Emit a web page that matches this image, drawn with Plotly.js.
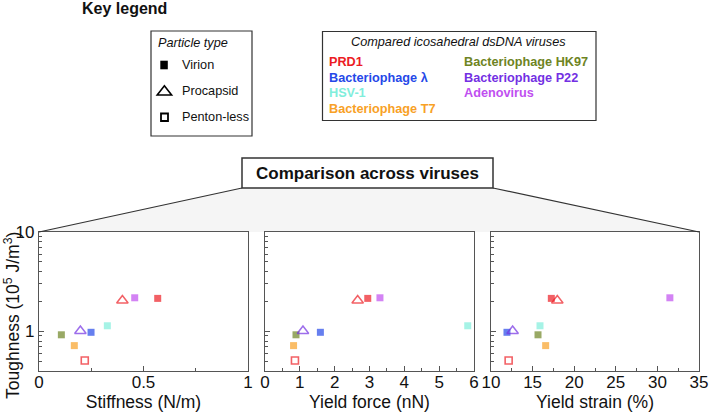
<!DOCTYPE html>
<html><head><meta charset="utf-8">
<script src="https://cdn.plot.ly/plotly-3.0.1.min.js"></script>
<style>html,body{margin:0;padding:0;background:#fff;}#chart{width:709px;height:412px;}</style>
</head><body><div id="chart"></div>
<script>
// ---------- Data ----------
const viruses = ["PRD1","PRD1","PRD1","Bacteriophage λ","HSV-1","Bacteriophage T7","Bacteriophage HK97","Bacteriophage P22","Adenovirus"];
const particleTypes = ["Virion","Procapsid","Penton-less","Virion","Virion","Virion","Virion","Procapsid","Virion"];
const stiffness   = [0.568,0.399,0.219,0.249,0.327,0.169,0.107,0.198,0.458];   // N/m
const yieldForce  = [2.95,2.66,0.86,1.59,5.82,0.82,0.89,1.09,3.30];            // nN
const yieldStrain = [17.25,17.97,12.12,11.92,15.89,16.57,15.65,12.6,31.5];     // %
const toughness   = [2.15,2.05,0.51,0.98,1.14,0.72,0.925,1.01,2.18];           // 10^5 J/m^3

const legendVirusesCol1 = ["PRD1","Bacteriophage λ","HSV-1","Bacteriophage T7"];
const legendVirusesCol2 = ["Bacteriophage HK97","Bacteriophage P22","Adenovirus"];
const legendParticles = ["Virion","Procapsid","Penton-less"];

const xTitles = ["Stiffness (N/m)","Yield force (nN)","Yield strain (%)"];
const xTickVals = [[0,0.5,1],[0,1,2,3,4,5,6],[10,15,20,25,30,35]];
const xTickText = [["0","0.5","1"],["0","1","2","3","4","5","6"],["10","15","20","25","30","35"]];
const yTickVals = [1,10];
const yTickText = ["1","10"];
const yMinorVals = [0.4,0.5,0.6,0.7,0.8,0.9,2,3,4,5,6,7,8,9];
const yTitle = "Toughness (10<sup>5</sup> J/m<sup>3</sup>)";

// ---------- Styles ----------
const virusColor = {"PRD1":"#ec1c24","Bacteriophage λ":"#2548e8","HSV-1":"#80eedb","Bacteriophage T7":"#f8a126",
  "Bacteriophage HK97":"#6e8423","Bacteriophage P22":"#7330e3","Adenovirus":"#c04ff0"};
const particleSymbol = {"Virion":"square","Procapsid":"triangle-up-open","Penton-less":"square-open"};
const particleSize = {"Virion":7,"Procapsid":10,"Penton-less":7};
const particleLine = {"Virion":0,"Procapsid":1.5,"Penton-less":1.6};
const FONT = "Liberation Sans, Arial, Helvetica, sans-serif";
const W = 709, H = 412;
const px = x => x / W, py = y => 1 - y / H;

const xData = [stiffness, yieldForce, yieldStrain];
const xRanges = [[0,1],[0,6],[10,35]];
const xMinorDt = [0.25,0.5,2.5];
const panelPx = [[39,248],[265,474],[491,699]];
const yDom = [py(371), py(232)];

const traces = xData.map((xs, i) => ({
  type: "scatter", mode: "markers",
  x: xs, y: toughness,
  xaxis: i === 0 ? "x" : "x" + (i + 1), yaxis: i === 0 ? "y" : "y" + (i + 1),
  text: viruses.map((v, k) => v + " – " + particleTypes[k]),
  hoverinfo: "text+x+y",
  marker: {
    color: viruses.map(v => virusColor[v]),
    symbol: particleTypes.map(p => particleSymbol[p]),
    size: particleTypes.map(p => particleSize[p]),
    line: { width: particleTypes.map(p => particleLine[p]), color: viruses.map(v => virusColor[v]) }
  },
  showlegend: false, cliponaxis: false
}));

const layout = {
  width: W, height: H,
  margin: { l: 0, r: 0, t: 0, b: 0 },
  paper_bgcolor: "#fff", plot_bgcolor: "#fff",
  font: { family: FONT, color: "#111" },
  showlegend: false,
  shapes: [], annotations: []
};

for (let i = 0; i < 3; i++) {
  const sx = i === 0 ? "" : String(i + 1);
  layout["xaxis" + sx] = {
    domain: [px(panelPx[i][0]), px(panelPx[i][1])], range: xRanges[i], anchor: "y" + sx,
    tickmode: "array", tickvals: xTickVals[i], ticktext: xTickText[i],
    ticks: "inside", ticklen: 5, tickwidth: 1, tickcolor: "#555",
    minor: { tick0: xRanges[i][0], dtick: xMinorDt[i], ticks: "inside", ticklen: 3, tickwidth: 1, tickcolor: "#555", showgrid: false },
    showline: true, mirror: true, linecolor: "#555", linewidth: 1.2,
    showgrid: false, zeroline: false, automargin: false,
    ticklabelstandoff: -5,
    tickfont: { size: 17, color: "#111", family: FONT },
    title: { text: xTitles[i], font: { size: 17.5, color: "#111", family: FONT } }
  };
  layout["yaxis" + sx] = {
    domain: yDom, type: "log", range: [Math.log10(0.4), 1], anchor: "x" + sx,
    tickmode: "array", tickvals: yTickVals, ticktext: yTickText,
    ticks: "inside", ticklen: 5, tickwidth: 1, tickcolor: "#555",
    minor: { tickmode: "array", tickvals: yMinorVals, ticks: "inside", ticklen: 3, tickwidth: 1, tickcolor: "#555", showgrid: false },
    showline: true, mirror: true, linecolor: "#555", linewidth: 1.2,
    showgrid: false, zeroline: false, automargin: false,
    showticklabels: i === 0,
    tickfont: { size: 17, color: "#111", family: FONT }
  };
}

// y-axis title (shared by the three panels, placed like the reference)
layout.annotations.push({ xref: "paper", yref: "paper", x: px(12), y: py(316), text: yTitle, textangle: -90,
  showarrow: false, xanchor: "center", yanchor: "middle", font: { size: 17.5, color: "#111", family: FONT } });

// ---------- Trapezoid and "Comparison across viruses" box ----------
const boxL = 242, boxR = 493, boxT = 158, boxB = 188, topY = 232, leftX = 39, rightX = 699;
layout.shapes.push({
  type: "path", xref: "paper", yref: "paper", layer: "below",
  path: `M ${px(boxL)} ${py(boxB)} L ${px(boxR)} ${py(boxB)} L ${px(rightX)} ${py(topY)} L ${px(leftX)} ${py(topY)} Z`,
  fillcolor: "#f5f5f5", line: { width: 0 }
});
layout.shapes.push({ type: "line", xref: "paper", yref: "paper", x0: px(boxL), y0: py(boxB), x1: px(leftX), y1: py(topY), line: { color: "#333", width: 1.2 } });
layout.shapes.push({ type: "line", xref: "paper", yref: "paper", x0: px(boxR), y0: py(boxB), x1: px(rightX), y1: py(topY), line: { color: "#333", width: 1.2 } });
layout.shapes.push({ type: "rect", xref: "paper", yref: "paper", x0: px(boxL), y0: py(boxB), x1: px(boxR), y1: py(boxT), fillcolor: "#fff", line: { color: "#333", width: 1.5 } });
layout.annotations.push({ xref: "paper", yref: "paper", x: px((boxL + boxR) / 2), y: py(173.5), text: "<b>Comparison across viruses</b>",
  showarrow: false, xanchor: "center", yanchor: "middle", font: { size: 17, color: "#111", family: FONT } });

// ---------- Key legend ----------
layout.annotations.push({ xref: "paper", yref: "paper", x: px(80), y: py(8.5), text: "<b>Key legend</b>",
  showarrow: false, xanchor: "left", yanchor: "middle", font: { size: 16, color: "#111", family: FONT } });

// Particle type box
layout.shapes.push({ type: "rect", xref: "paper", yref: "paper", x0: px(151), y0: py(136), x1: px(252), y1: py(31), fillcolor: "#fff", line: { color: "#333", width: 1.2 } });
layout.annotations.push({ xref: "paper", yref: "paper", x: px(155.5), y: py(42.5), text: "<i>Particle type</i>",
  showarrow: false, xanchor: "left", yanchor: "middle", font: { size: 12.7, color: "#111", family: FONT } });
const partRowsY = [65, 90.5, 117];
legendParticles.forEach((p, k) => {
  layout.annotations.push({ xref: "paper", yref: "paper", x: px(179.5), y: py(partRowsY[k]), text: p,
    showarrow: false, xanchor: "left", yanchor: "middle", font: { size: 12.7, color: "#111", family: FONT } });
});
// legend symbols
layout.shapes.push({ type: "rect", xref: "paper", yref: "paper", x0: px(160.3), y0: py(69.3), x1: px(167.8), y1: py(60.7), fillcolor: "#000", line: { width: 0 } });
layout.shapes.push({ type: "path", xref: "paper", yref: "paper",
  path: `M ${px(157.2)} ${py(95)} L ${px(171.6)} ${py(95)} L ${px(164.4)} ${py(85.8)} Z`, fillcolor: "rgba(0,0,0,0)", line: { color: "#000", width: 1.6 } });
layout.shapes.push({ type: "rect", xref: "paper", yref: "paper", x0: px(161), y0: py(121), x1: px(168), y1: py(113.5), fillcolor: "rgba(0,0,0,0)", line: { color: "#000", width: 1.8 } });

// Compared viruses box
layout.shapes.push({ type: "rect", xref: "paper", yref: "paper", x0: px(322.5), y0: py(120.5), x1: px(596), y1: py(31.5), fillcolor: "#fff", line: { color: "#333", width: 1.2 } });
layout.annotations.push({ xref: "paper", yref: "paper", x: px(458.5), y: py(41.5), text: "<i>Compared icosahedral dsDNA viruses</i>",
  showarrow: false, xanchor: "center", yanchor: "middle", font: { size: 12.7, color: "#111", family: FONT } });
const virRowsY = [62.5, 78, 93, 108.5];
legendVirusesCol1.forEach((v, k) => {
  layout.annotations.push({ xref: "paper", yref: "paper", x: px(327), y: py(virRowsY[k]), text: "<b>" + v + "</b>",
    showarrow: false, xanchor: "left", yanchor: "middle", font: { size: 12.7, color: virusColor[v], family: FONT } });
});
legendVirusesCol2.forEach((v, k) => {
  layout.annotations.push({ xref: "paper", yref: "paper", x: px(461.5), y: py(virRowsY[k]), text: "<b>" + v + "</b>",
    showarrow: false, xanchor: "left", yanchor: "middle", font: { size: 12.7, color: virusColor[v], family: FONT } });
});

Plotly.newPlot("chart", traces, layout, { displayModeBar: false, staticPlot: true });
</script>
</body></html>
